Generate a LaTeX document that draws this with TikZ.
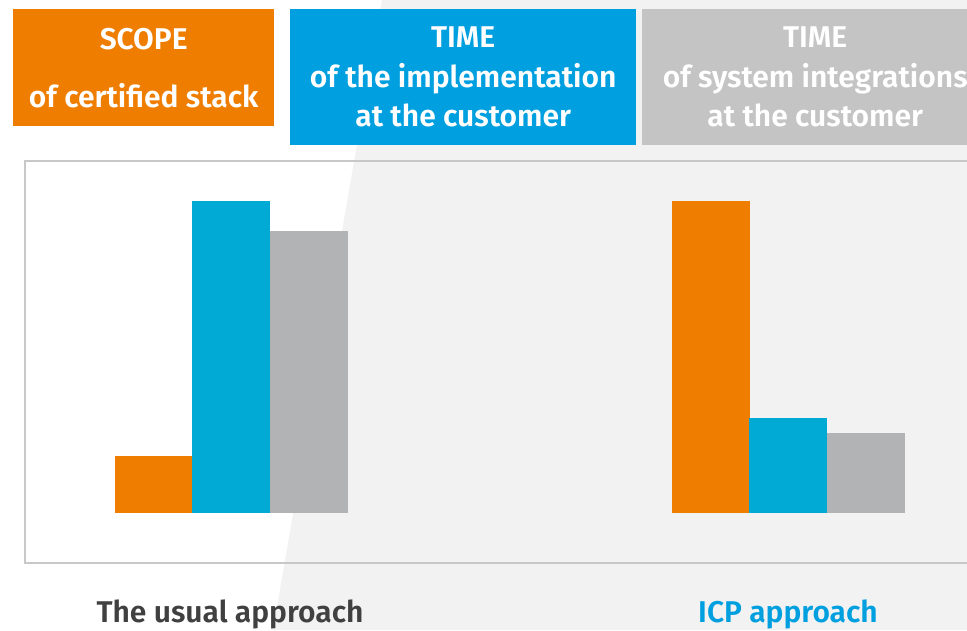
\documentclass[tikz,border=0pt]{standalone}
\usepackage{fontspec}
\setmainfont{Fira Sans}[BoldFont={Fira Sans SemiBold}]

\definecolor{scopeorange}{HTML}{EF7D00}
\definecolor{timeblue}{HTML}{009FDF}
\definecolor{sysgray}{HTML}{C4C4C4}
\definecolor{barblue}{HTML}{00AAD4}
\definecolor{bargray}{HTML}{B2B3B5}
\definecolor{bgshade}{HTML}{F2F2F2}
\definecolor{framegray}{HTML}{C8C8C8}
\definecolor{labelgray}{HTML}{404040}

\begin{document}
\begin{tikzpicture}[x=1pt,y=-1pt,
  head/.style={font=\bfseries\fontsize{30}{39.5}\selectfont, text=white,
    align=center, anchor=north west, inner sep=0pt},
  caption/.style={font=\bfseries\fontsize{30}{36}\selectfont, anchor=base}]
\useasboundingbox (0,0) rectangle (967,630);
\fill[white] (0,0) rectangle (967,630);
\fill[bgshade] (382,0) -- (967,0) -- (967,630) -- (273,630) -- cycle;

% legend boxes
\node[head, fill=scopeorange, minimum width=261, minimum height=117] (scope) at (13,9)
  {SCOPE\\[18.5pt]of certified stack};
\node[head, fill=timeblue, minimum width=346, minimum height=136] (impl) at (290,9)
  {TIME\\of the implementation\\at the customer};
\node[head, fill=sysgray, minimum width=346, minimum height=136] (integ) at (642,9)
  {TIME\\of system integrations\\at the customer};

% chart frame
\draw[framegray, line width=1.5] (990,161) -- (25,161) -- (25,563) -- (990,563);

% usual approach
\fill[scopeorange] (115,456) rectangle (192,513);
\fill[barblue] (192,201) rectangle (270,513);
\fill[bargray] (270,231) rectangle (348,513);

% ICP approach
\fill[scopeorange] (672,201) rectangle (750,513);
\fill[barblue] (749,418) rectangle (827,513);
\fill[bargray] (827,433) rectangle (905,513);

\node[caption, text=labelgray] (usual) at (230,622) {The usual approach};
\node[caption, text=timeblue] (icp) at (788,622) {ICP approach};

\end{tikzpicture}
\end{document}
